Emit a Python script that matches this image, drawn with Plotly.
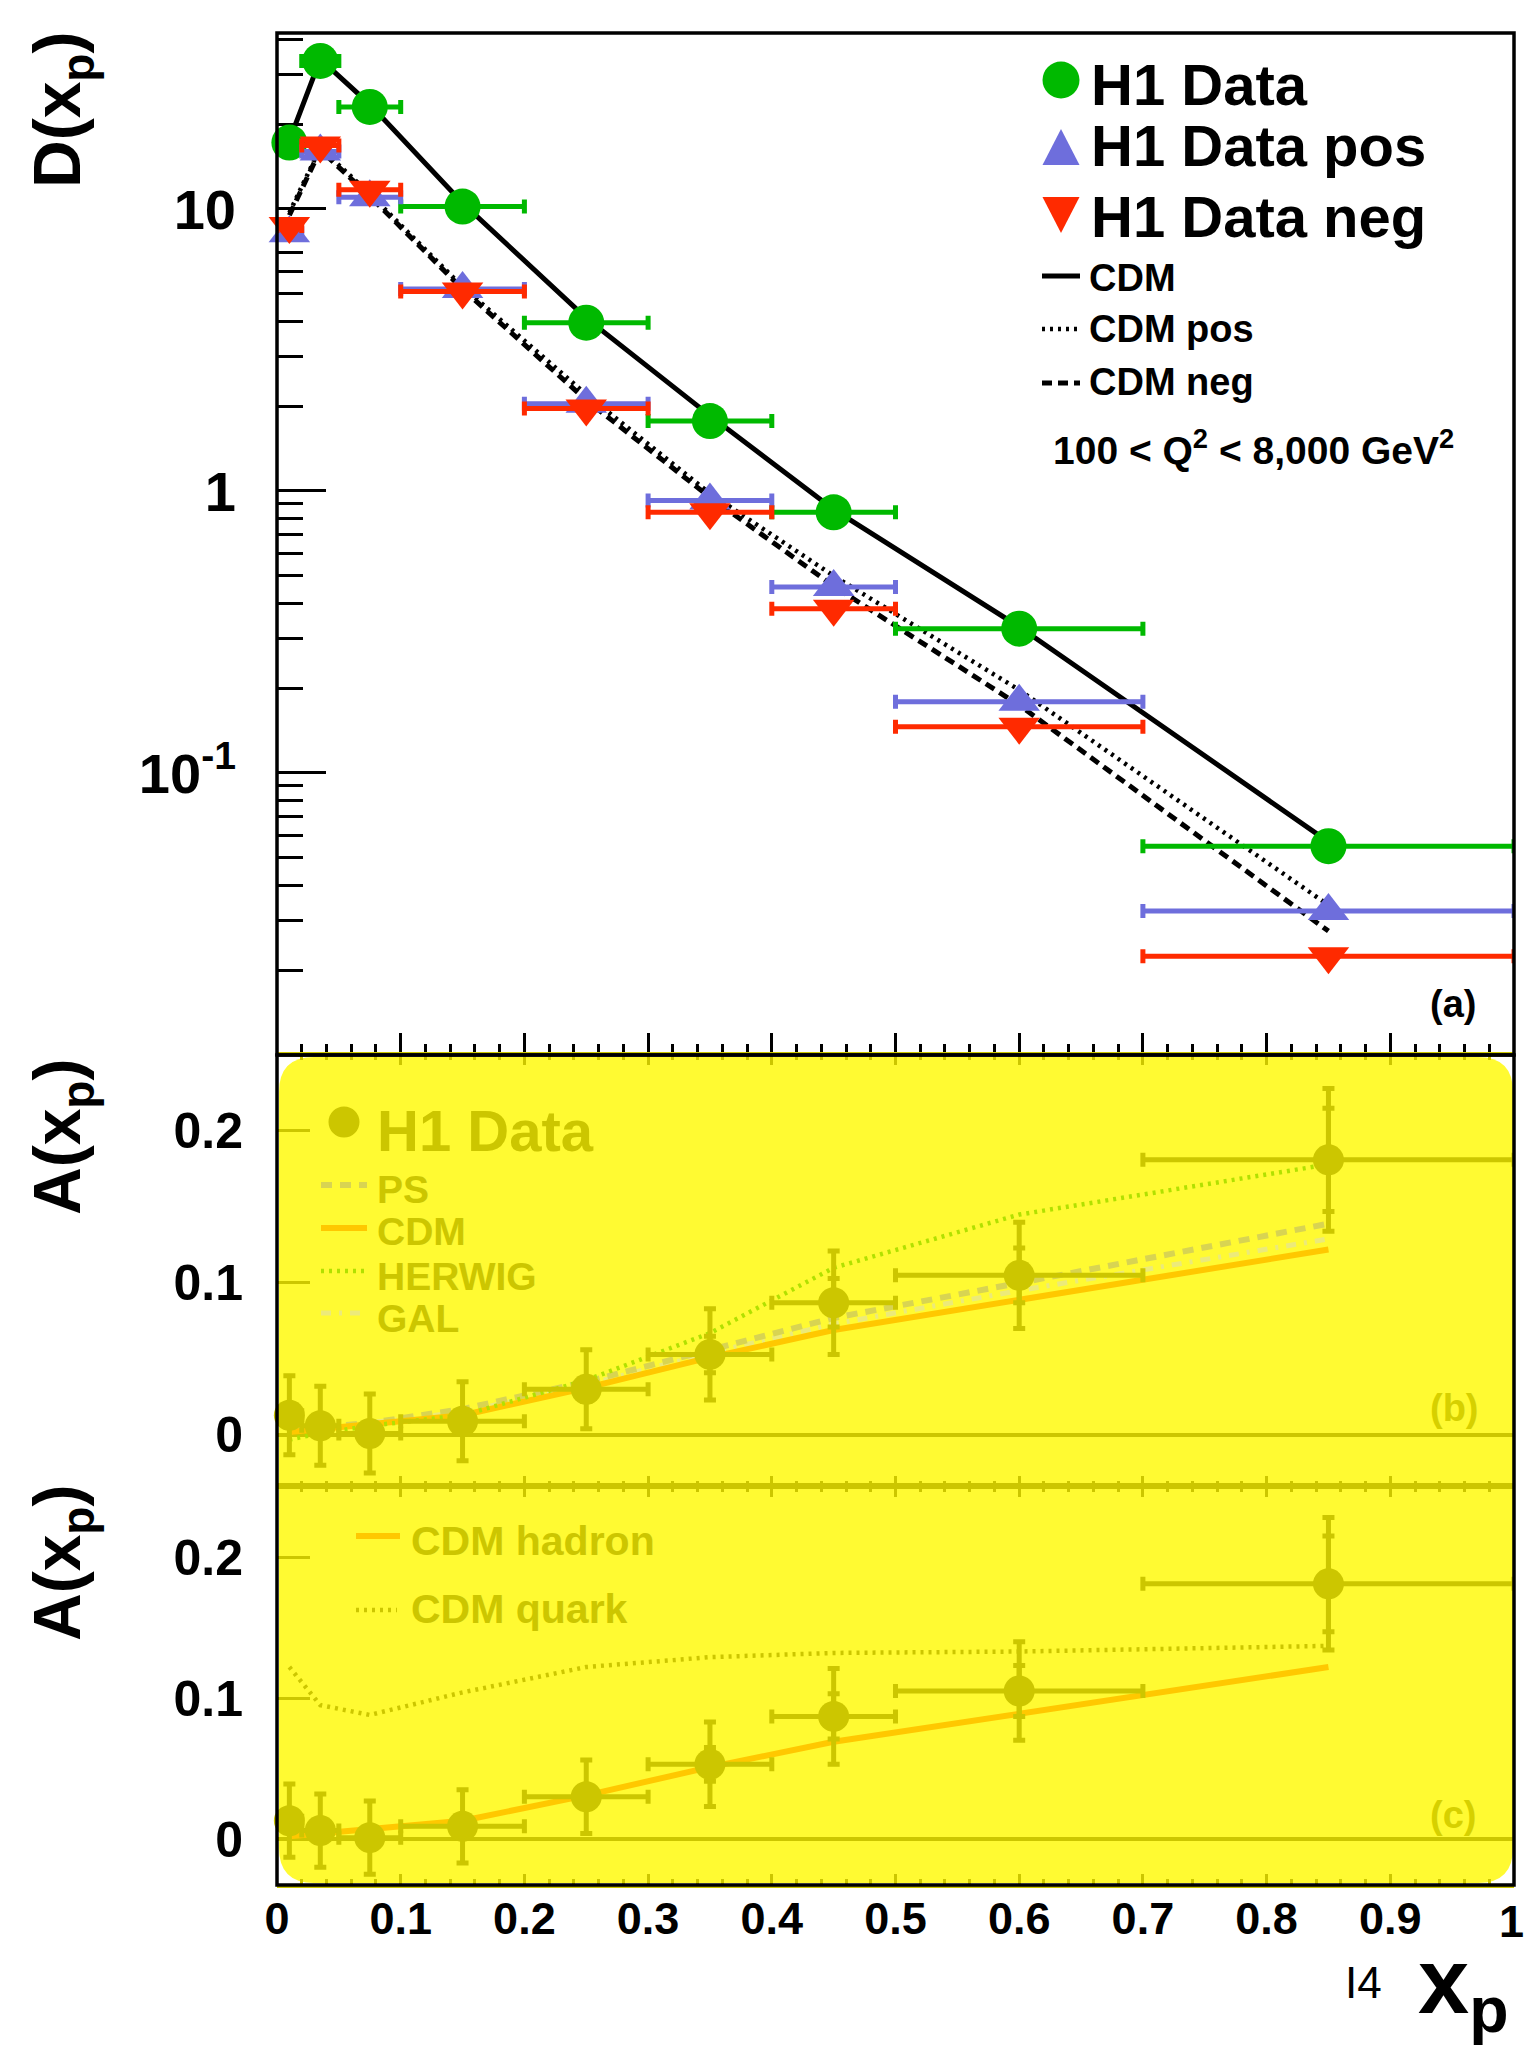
import plotly.graph_objects as go

# ---------------- data ----------------
# x_p bins and centres
bin_lo = [0.0, 0.02, 0.05, 0.10, 0.20, 0.30, 0.40, 0.50, 0.70]
bin_hi = [0.02, 0.05, 0.10, 0.20, 0.30, 0.40, 0.50, 0.70, 1.00]
xp = [0.01, 0.035, 0.075, 0.15, 0.25, 0.35, 0.45, 0.60, 0.85]

# (a) D(x_p): all, positive and negative charge
D_all = [17.2, 33.5, 23.0, 10.2, 3.95, 1.77, 0.84, 0.325, 0.055]
D_pos = [8.2, 16.0, 11.0, 5.2, 2.04, 0.925, 0.457, 0.179, 0.0324]
D_neg = [8.7, 16.8, 11.7, 5.1, 1.96, 0.84, 0.382, 0.146, 0.0224]

cdm_all = [17.5, 34.0, 23.5, 10.5, 4.1, 1.85, 0.86, 0.33, 0.057]
cdm_pos = [9.7, 16.5, 11.3, 5.3, 2.2, 0.98, 0.50, 0.197, 0.034]
cdm_neg = [9.5, 16.2, 11.1, 5.2, 2.1, 0.95, 0.46, 0.174, 0.0275]

# (b), (c) asymmetry A(x_p)
A_data = [0.013, 0.006, 0.001, 0.009, 0.030, 0.053, 0.087, 0.105, 0.181]
A_tot = [0.026, 0.026, 0.026, 0.026, 0.026, 0.030, 0.034, 0.035, 0.047]
A_stat = [0.006, 0.006, 0.006, 0.006, 0.008, 0.012, 0.016, 0.018, 0.034]

A_ps = [0.003, 0.005, 0.008, 0.017, 0.035, 0.056, 0.077, 0.100, 0.139]
A_cdm = [0.002, 0.004, 0.007, 0.013, 0.031, 0.051, 0.069, 0.089, 0.122]
A_herwig = [-0.003, 0.001, 0.006, 0.013, 0.036, 0.067, 0.110, 0.145, 0.178]
A_gal = [0.002, 0.004, 0.008, 0.015, 0.033, 0.054, 0.073, 0.095, 0.129]
A_cdm_quark = [0.122, 0.095, 0.088, 0.104, 0.122, 0.129, 0.132, 0.133, 0.137]

x_ticks = [0, 0.1, 0.2, 0.3, 0.4, 0.5, 0.6, 0.7, 0.8, 0.9]
x_ticktext = ["0", "0.1", "0.2", "0.3", "0.4", "0.5", "0.6", "0.7", "0.8", "0.9"]

# ---------------- styling ----------------
W, H = 1525, 2049
GREEN = "#00b900"
BLUE = "#6e6edc"
RED = "#ff2a00"
YELLOW = "rgb(255,250,50)"
OLIVE = "#ccc600"
ORANGE = "#ffc800"
LIME = "#b2e000"
PSCOL = "#d8d452"
GALCOL = "#ecea7a"
LBLCOL = "#d6d000"
FONT = "Liberation Sans"


def X(px):
    return px / W


def Y(py):
    return 1 - py / H


err_plus = [h - x for h, x in zip(bin_hi, xp)]
err_minus = [x - l for l, x in zip(bin_lo, xp)]

L, R = 277, 1514
TOP_A, BOT_A, BOT_B, BOT_C = 33, 1055, 1486, 1885

fig = go.Figure()

# ---- panel (a): model curves ----
fig.add_trace(go.Scatter(x=xp, y=cdm_all, mode="lines", xaxis="x", yaxis="y",
                         line=dict(color="black", width=5)))
fig.add_trace(go.Scatter(x=xp, y=cdm_pos, mode="lines", xaxis="x", yaxis="y",
                         line=dict(color="black", width=4.5, dash="3px,5px")))
fig.add_trace(go.Scatter(x=xp, y=cdm_neg, mode="lines", xaxis="x", yaxis="y",
                         line=dict(color="black", width=5, dash="10px,6px")))


def ex(color, thick=5, width=7):
    return dict(type="data", symmetric=False, array=err_plus, arrayminus=err_minus,
                color=color, thickness=thick, width=width)


fig.add_trace(go.Scatter(x=xp, y=D_all, mode="markers", xaxis="x", yaxis="y",
                         marker=dict(symbol="circle", size=36, color=GREEN),
                         error_x=ex(GREEN), cliponaxis=False))
fig.add_trace(go.Scatter(x=xp, y=D_pos, mode="markers", xaxis="x", yaxis="y",
                         marker=dict(symbol="triangle-up", size=36, color=BLUE),
                         error_x=ex(BLUE), cliponaxis=False))
fig.add_trace(go.Scatter(x=xp, y=D_neg, mode="markers", xaxis="x", yaxis="y",
                         marker=dict(symbol="triangle-down", size=36, color=RED),
                         error_x=ex(RED), cliponaxis=False))

# ---- panel (b) ----
fig.add_trace(go.Scatter(x=xp, y=A_gal, mode="lines", xaxis="x2", yaxis="y2",
                         line=dict(color=GALCOL, width=5, dash="10px,8px,3px,8px")))
fig.add_trace(go.Scatter(x=xp, y=A_ps, mode="lines", xaxis="x2", yaxis="y2",
                         line=dict(color=PSCOL, width=6, dash="11px,8px")))
fig.add_trace(go.Scatter(x=xp, y=A_cdm, mode="lines", xaxis="x2", yaxis="y2",
                         line=dict(color=ORANGE, width=6)))
fig.add_trace(go.Scatter(x=xp, y=A_herwig, mode="lines", xaxis="x2", yaxis="y2",
                         line=dict(color=LIME, width=4.5, dash="3px,5px")))

# ---- panel (c) ----
fig.add_trace(go.Scatter(x=xp, y=A_cdm, mode="lines", xaxis="x3", yaxis="y3",
                         line=dict(color=ORANGE, width=6)))
fig.add_trace(go.Scatter(x=xp, y=A_cdm_quark, mode="lines", xaxis="x3", yaxis="y3",
                         line=dict(color=OLIVE, width=4.5, dash="3px,5px")))

# asymmetry data in (b) and (c): total and statistical error bars
for xa, ya in (("x2", "y2"), ("x3", "y3")):
    fig.add_trace(go.Scatter(x=xp, y=A_data, mode="markers", xaxis=xa, yaxis=ya,
                             marker=dict(size=1, color="rgba(0,0,0,0)"),
                             error_y=dict(type="data", array=A_stat, color=OLIVE,
                                          thickness=5, width=6),
                             cliponaxis=False))
    fig.add_trace(go.Scatter(x=xp, y=A_data, mode="markers", xaxis=xa, yaxis=ya,
                             marker=dict(symbol="circle", size=31, color=OLIVE),
                             error_x=ex(OLIVE),
                             error_y=dict(type="data", array=A_tot, color=OLIVE,
                                          thickness=5, width=6),
                             cliponaxis=False))

# ---------------- axes ----------------
xdom = [X(L), X(R)]
common_x = dict(domain=xdom, range=[0, 1], showgrid=False, zeroline=False,
                tick0=0, dtick=0.1, ticks="inside", tickwidth=3, layer="below traces",
                automargin=False)

minor_log = [v * m for v in (0.01, 0.1, 1, 10) for m in range(2, 10) if v * m < 42]

fig.update_layout(
    width=W, height=H,
    margin=dict(l=0, r=0, t=0, b=0, autoexpand=False),
    paper_bgcolor="white", plot_bgcolor="rgba(0,0,0,0)",
    showlegend=False,
    font=dict(family=FONT, color="black"),
    xaxis=dict(common_x, anchor="y", showticklabels=False, ticklen=22, tickcolor="black",
               minor=dict(ticks="inside", dtick=0.02, ticklen=11, tickwidth=3,
                          tickcolor="black"),
               showline=False),
    yaxis=dict(domain=[Y(BOT_A), Y(TOP_A)], anchor="x", type="log", range=[-2.0, 1.624],
               showgrid=False, zeroline=False, ticks="inside", ticklen=49, tickwidth=3,
               tickcolor="black", tickvals=[0.1, 1, 10],
               ticktext=["10<sup>-1</sup>", "1", "10"],
               tickfont=dict(size=56, family=FONT, weight="bold"),
               ticklabelstandoff=40, layer="below traces", automargin=False,
               minor=dict(ticks="inside", tickvals=minor_log, ticklen=26, tickwidth=3,
                          tickcolor="black")),
    xaxis2=dict(common_x, anchor="y2", showticklabels=False, ticklen=10, tickcolor=OLIVE,
                minor=dict(ticks="inside", dtick=0.02, ticklen=5, tickwidth=3,
                           tickcolor=OLIVE),
                showline=True, linecolor=OLIVE, linewidth=3, mirror="allticks"),
    yaxis2=dict(domain=[Y(BOT_B), Y(BOT_A)], anchor="x2", range=[-0.0336, 0.25],
                showgrid=False, zeroline=True, zerolinecolor=OLIVE, zerolinewidth=4,
                ticks="inside", ticklen=33, tickwidth=3, tickcolor=OLIVE,
                tickvals=[0, 0.1, 0.2], ticktext=["0", "0.1", "0.2"],
                tickfont=dict(size=50, family=FONT, weight="bold"),
                ticklabelstandoff=33, layer="below traces", automargin=False),
    xaxis3=dict(common_x, anchor="y3", ticklen=11, tickcolor=OLIVE,
                tickmode="array", tickvals=x_ticks, ticktext=x_ticktext,
                tickfont=dict(size=45, family=FONT, weight="bold"),
                ticklabelstandoff=-8,
                minor=dict(ticks="inside", dtick=0.02, ticklen=6, tickwidth=3,
                           tickcolor=OLIVE),
                showline=True, linecolor=OLIVE, linewidth=3, mirror="allticks"),
    yaxis3=dict(domain=[Y(BOT_C), Y(BOT_B)], anchor="x3", range=[-0.0326, 0.2504],
                showgrid=False, zeroline=True, zerolinecolor=OLIVE, zerolinewidth=4,
                ticks="inside", ticklen=33, tickwidth=3, tickcolor=OLIVE,
                tickvals=[0, 0.1, 0.2], ticktext=["0", "0.1", "0.2"],
                tickfont=dict(size=50, family=FONT, weight="bold"),
                ticklabelstandoff=33, layer="below traces", automargin=False),
)

# ---------------- shapes ----------------
shapes = []

# rounded yellow band behind panels (b) and (c)
x0, x1, y0, y1, r = 279, 1513, 1057, 1883, 35
band = (f"M {X(x0 + r)},{Y(y0)} L {X(x1 - r)},{Y(y0)} Q {X(x1)},{Y(y0)} {X(x1)},{Y(y0 + r)} "
        f"L {X(x1)},{Y(y1 - r)} Q {X(x1)},{Y(y1)} {X(x1 - r)},{Y(y1)} "
        f"L {X(x0 + r)},{Y(y1)} Q {X(x0)},{Y(y1)} {X(x0)},{Y(y1 - r)} "
        f"L {X(x0)},{Y(y0 + r)} Q {X(x0)},{Y(y0)} {X(x0 + r)},{Y(y0)} Z")
shapes.append(dict(type="path", path=band, xref="paper", yref="paper", layer="below",
                   fillcolor=YELLOW, line=dict(width=0)))

# frames
for (ya, yb) in ((TOP_A, BOT_A), (BOT_A, BOT_C)):
    shapes.append(dict(type="rect", xref="paper", yref="paper", layer="above",
                       x0=X(L), x1=X(R), y0=Y(yb), y1=Y(ya),
                       line=dict(color="black", width=3.5)))


def seg(xa, xb, yy, color, width, dash="solid"):
    shapes.append(dict(type="line", xref="paper", yref="paper", layer="above",
                       x0=X(xa), x1=X(xb), y0=Y(yy), y1=Y(yy),
                       line=dict(color=color, width=width, dash=dash)))


def dot(cx, cy, d, color):
    shapes.append(dict(type="circle", xref="paper", yref="paper", layer="above",
                       x0=X(cx - d / 2), x1=X(cx + d / 2), y0=Y(cy + d / 2), y1=Y(cy - d / 2),
                       fillcolor=color, line=dict(width=0)))


def tri(cx, cy, w, h, color, up=True):
    if up:
        p = f"M {X(cx - w / 2)},{Y(cy + h / 2)} L {X(cx + w / 2)},{Y(cy + h / 2)} L {X(cx)},{Y(cy - h / 2)} Z"
    else:
        p = f"M {X(cx - w / 2)},{Y(cy - h / 2)} L {X(cx + w / 2)},{Y(cy - h / 2)} L {X(cx)},{Y(cy + h / 2)} Z"
    shapes.append(dict(type="path", path=p, xref="paper", yref="paper", layer="above",
                       fillcolor=color, line=dict(width=0)))


# legend keys, panel (a)
dot(1061, 80, 37, GREEN)
tri(1061, 147, 37, 36, BLUE, up=True)
tri(1061, 215, 37, 36, RED, up=False)
seg(1042, 1080, 276, "black", 5)
seg(1042, 1080, 329, "black", 4.5, "3px,5px")
seg(1042, 1080, 383, "black", 5, "10px,6px")

# legend keys, panel (b)
dot(344, 1122, 31, OLIVE)
seg(321, 367, 1185, PSCOL, 6, "11px,8px")
seg(321, 367, 1228, ORANGE, 6)
seg(321, 367, 1271, LIME, 4.5, "3px,5px")
seg(321, 367, 1313, GALCOL, 5, "10px,8px,3px,8px")

# legend keys, panel (c)
seg(356, 400, 1536, ORANGE, 6)
seg(356, 397, 1610, OLIVE, 4.5, "3px,5px")

fig.update_layout(shapes=shapes)

# ---------------- text ----------------
ann = []


def text(s, x, y, size, color="black", xanchor="left", weight="bold", angle=0,
         family=FONT):
    ann.append(dict(text=s, x=X(x), y=Y(y), xref="paper", yref="paper",
                    xanchor=xanchor, yanchor="middle", showarrow=False,
                    textangle=angle,
                    font=dict(size=size, color=color, family=family, weight=weight)))


text("H1 Data", 1089, 85, 58)
text("H1 Data pos", 1089, 146, 58)
text("H1 Data neg", 1089, 216, 58)
text("CDM", 1087, 278, 38)
text("CDM pos", 1087, 329, 38)
text("CDM neg", 1087, 382, 38)
text("100 < Q<sup>2</sup> < 8,000 GeV<sup>2</sup>", 1051, 447, 39)
text("(a)", 1453, 1004, 38, xanchor="center")

text("H1 Data", 375, 1130, 58, color=OLIVE)
text("PS", 375, 1189, 39, color=OLIVE)
text("CDM", 375, 1231, 39, color=OLIVE)
text("HERWIG", 375, 1276, 39, color=OLIVE)
text("GAL", 375, 1318, 39, color=OLIVE)
text("(b)", 1454, 1408, 38, color=LBLCOL, xanchor="center")

text("CDM hadron", 409, 1541, 41, color=OLIVE)
text("CDM quark", 409, 1609, 41, color=OLIVE)
text("(c)", 1453, 1815, 38, color=LBLCOL, xanchor="center")

# last x tick label, kept inside the page edge
text("1", 1511, 1921, 45, xanchor="center")

# axis titles
text("D(x<sub>p</sub>)", 62, 110, 66, xanchor="center", angle=-90)
text("A(x<sub>p</sub>)", 62, 1137, 66, xanchor="center", angle=-90)
text("A(x<sub>p</sub>)", 62, 1563, 66, xanchor="center", angle=-90)
text("x<sub>p</sub>", 1511, 1988, 92, xanchor="right")
text("I4", 1343, 1982, 44, xanchor="left", weight="normal")

fig.update_layout(annotations=ann)

fig.write_html("out.html")
